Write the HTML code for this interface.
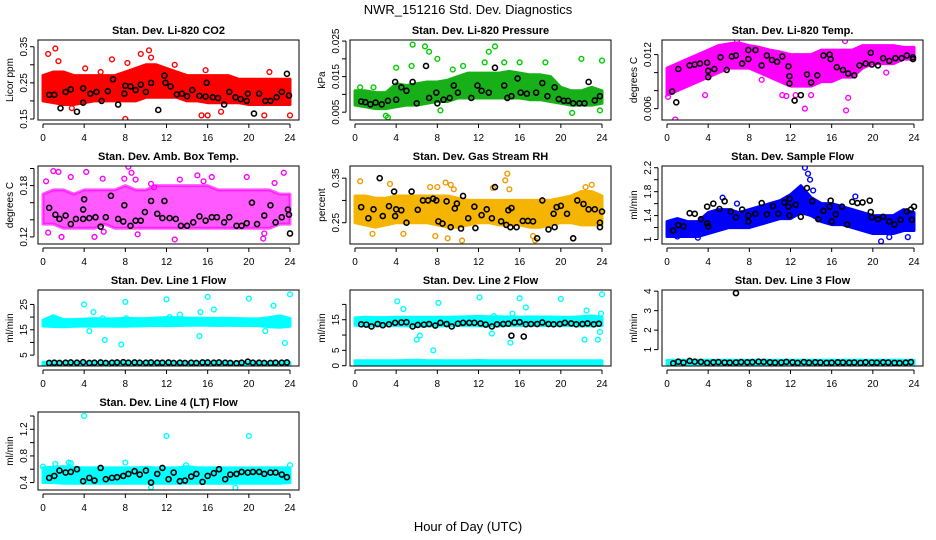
<!DOCTYPE html>
<html><head><meta charset="utf-8"><title>NWR_151216 Std. Dev. Diagnostics</title>
<style>
html,body{margin:0;padding:0;background:#fff;}
svg{display:block;font-family:"Liberation Sans",sans-serif;}
</style></head>
<body>
<svg id="chart" width="936" height="540" viewBox="0 0 936 540" xmlns="http://www.w3.org/2000/svg">
<text x="468" y="14" text-anchor="middle" font-size="13">NWR_151216  Std. Dev. Diagnostics</text>
<text x="468" y="531" text-anchor="middle" font-size="13">Hour of Day (UTC)</text>
</svg>
<script>
const xTicks = [0,4,8,12,16,20,24];

const co2Lo = [0.20,0.195,0.19,0.19,0.195,0.20,0.20,0.20,0.20,0.20,0.21,0.21,0.21,0.21,0.20,0.20,0.195,0.195,0.195,0.195,0.19,0.19,0.19,0.19,0.19];
const co2Hi = [0.27,0.28,0.28,0.27,0.27,0.27,0.27,0.27,0.28,0.29,0.30,0.30,0.29,0.28,0.27,0.27,0.27,0.27,0.27,0.26,0.26,0.26,0.26,0.26,0.26];
const co2Out = [[0.5,0.33],[1.2,0.345],[1.5,0.31],[4.1,0.29],[6.7,0.315],[8.0,0.15],[8.2,0.305],[9.5,0.33],[10.3,0.34],[10.5,0.32],[12.8,0.30],[15.4,0.16],[15.8,0.285],[16,0.16],[21.5,0.16],[22,0.28],[24,0.16],[5.6,0.28],[2.8,0.18],[17.3,0.17]];
const co2Blk = [[0.6,0.217],[1.1,0.217],[1.7,0.18],[2.2,0.225],[2.7,0.232],[3.3,0.17],[3.9,0.195],[3.9,0.235],[4.6,0.22],[5.2,0.225],[5.7,0.2],[6.3,0.227],[6.8,0.26],[7.3,0.19],[7.9,0.22],[8,0.242],[8.5,0.24],[9,0.23],[9.5,0.245],[10,0.225],[10.5,0.25],[11.2,0.175],[11.8,0.27],[11.9,0.25],[12.4,0.24],[13,0.218],[13.5,0.22],[14,0.213],[14.5,0.23],[15.2,0.214],[15.8,0.212],[15.9,0.25],[16.5,0.21],[17,0.208],[17.6,0.19],[18.1,0.225],[18.7,0.21],[19.2,0.205],[19.8,0.2],[19.9,0.22],[20.5,0.165],[21,0.22],[21.6,0.2],[22.1,0.2],[22.7,0.21],[23.2,0.225],[23.7,0.275],[23.9,0.215]];

const presLo = [0.007,0.0065,0.006,0.006,0.0065,0.007,0.007,0.0075,0.008,0.008,0.009,0.009,0.009,0.009,0.009,0.009,0.009,0.0085,0.0085,0.008,0.0075,0.007,0.007,0.007,0.0075];
const presHi = [0.011,0.011,0.0105,0.0105,0.013,0.0125,0.013,0.0135,0.0135,0.014,0.015,0.016,0.016,0.016,0.016,0.0165,0.016,0.0155,0.0155,0.015,0.012,0.011,0.011,0.012,0.011];
const presOut = [[5.6,0.024],[6.8,0.0235],[7.2,0.022],[8.0,0.02],[4,0.0175],[5.5,0.018],[9.5,0.017],[10.5,0.018],[12.6,0.019],[13.0,0.022],[13.6,0.0235],[14.5,0.019],[16,0.019],[18.5,0.019],[22,0.02],[24,0.0195],[3,0.004],[3.2,0.0035],[21.1,0.0048],[8.3,0.0055],[1.8,0.012],[0.5,0.012],[23.8,0.0055]];
const presBlk = [[0.6,0.008],[1,0.0078],[1.5,0.0072],[2.0,0.0077],[2.6,0.0072],[3.2,0.0082],[3.9,0.0135],[4,0.0085],[4.5,0.012],[5,0.011],[5.6,0.0135],[6,0.0075],[6.9,0.018],[7.2,0.009],[7.9,0.0105],[8,0.0075],[8.6,0.0085],[9.2,0.009],[9.6,0.0125],[10,0.0105],[11.3,0.009],[11.9,0.0125],[12.3,0.011],[13,0.0105],[13.6,0.0175],[14.5,0.0125],[14.8,0.009],[15.2,0.0095],[15.8,0.0145],[16.1,0.0105],[16.7,0.0102],[17.6,0.0105],[18.2,0.0132],[18.7,0.0095],[19.4,0.012],[19.8,0.0087],[20.3,0.0082],[20.7,0.0082],[21.2,0.0075],[21.8,0.0075],[22.3,0.0075],[22.7,0.0135],[23.3,0.0083],[23.8,0.0095]];

const tempLo = [0.0075,0.008,0.0085,0.009,0.0095,0.01,0.0105,0.0105,0.0105,0.010,0.0095,0.009,0.0085,0.0085,0.0085,0.009,0.009,0.0095,0.0095,0.0105,0.011,0.011,0.011,0.0115,0.0115];
const tempHi = [0.0105,0.011,0.0115,0.012,0.0125,0.013,0.0132,0.0133,0.013,0.0128,0.0125,0.0123,0.012,0.012,0.012,0.0125,0.0125,0.0125,0.0125,0.013,0.013,0.013,0.013,0.0128,0.0128];
const tempOut = [[0.1,0.0073],[0.8,0.0048],[1.7,0.0087],[3.7,0.0075],[6.8,0.0135],[9.2,0.0092],[11.2,0.0075],[11.6,0.0074],[12.5,0.0075],[13.4,0.006],[14,0.0075],[17.4,0.0058],[17.6,0.0072],[17.3,0.0135],[21.3,0.01],[7.7,0.0108]];
const tempBlk = [[0.5,0.0079],[0.9,0.0067],[1.1,0.0104],[2.2,0.0108],[2.7,0.0109],[3.2,0.011],[3.9,0.0111],[4,0.0095],[4,0.0102],[4.6,0.0104],[5.2,0.0117],[5.8,0.0103],[6.3,0.0118],[6.7,0.0119],[7.3,0.011],[7.9,0.0125],[7.9,0.0115],[8.6,0.0125],[9.2,0.0108],[9.7,0.0119],[10.2,0.0114],[10.7,0.0112],[11.2,0.0118],[11.8,0.0107],[11.9,0.0088],[11.9,0.0096],[12.4,0.0069],[13,0.0075],[13.6,0.0098],[14,0.0089],[14.6,0.0097],[15.2,0.0119],[15.8,0.012],[15.9,0.0115],[16.5,0.0106],[17.1,0.0103],[17.6,0.0099],[18.2,0.0097],[18.7,0.0108],[19.3,0.011],[19.8,0.0122],[19.9,0.0109],[20.5,0.0108],[21,0.0116],[21.6,0.0113],[22.2,0.0116],[22.8,0.0116],[23.3,0.0119],[23.9,0.0117],[23.9,0.0115]];

const ambLo = [0.135,0.135,0.13,0.13,0.13,0.13,0.135,0.13,0.13,0.13,0.13,0.13,0.13,0.13,0.13,0.13,0.13,0.13,0.13,0.13,0.13,0.13,0.13,0.135,0.135];
const ambHi = [0.17,0.175,0.175,0.17,0.175,0.175,0.175,0.175,0.18,0.175,0.175,0.18,0.18,0.18,0.18,0.18,0.18,0.175,0.175,0.175,0.175,0.175,0.175,0.17,0.17];
const ambOut = [[0.3,0.185],[0.5,0.125],[1,0.197],[1.5,0.196],[2.7,0.19],[4.2,0.196],[5.8,0.188],[5.9,0.126],[7.9,0.188],[8.3,0.202],[8.6,0.195],[9,0.187],[10.5,0.182],[10.8,0.178],[12.4,0.21],[13.3,0.187],[12.8,0.117],[15,0.192],[15.6,0.185],[16.4,0.19],[19.8,0.19],[21.4,0.118],[21.5,0.124],[22.5,0.183],[23.4,0.195],[1.8,0.12],[5,0.12],[9.2,0.123]];
const ambBlk = [[0.6,0.154],[1.2,0.146],[1.6,0.141],[2.2,0.145],[2.7,0.135],[3.2,0.141],[3.9,0.141],[3.9,0.152],[4,0.164],[4.5,0.142],[5.1,0.143],[5.6,0.132],[6.1,0.143],[6.6,0.168],[7.3,0.141],[7.8,0.138],[7.9,0.157],[8.5,0.133],[9,0.139],[9.5,0.139],[9.9,0.149],[10.5,0.162],[11.1,0.147],[11.6,0.142],[11.8,0.162],[12.3,0.142],[12.9,0.141],[13.4,0.133],[14,0.133],[14.6,0.137],[15.2,0.144],[15.8,0.139],[16.4,0.143],[16.9,0.143],[17.6,0.137],[18.1,0.143],[18.8,0.133],[19.3,0.133],[19.8,0.136],[20.3,0.16],[20.8,0.135],[21.5,0.145],[22.1,0.157],[22.6,0.137],[23.2,0.143],[23.8,0.152],[23.9,0.146],[24,0.124]];

const rhLo = [0.25,0.245,0.24,0.245,0.25,0.25,0.25,0.25,0.245,0.24,0.24,0.245,0.25,0.25,0.245,0.245,0.245,0.24,0.24,0.245,0.25,0.25,0.245,0.245,0.245];
const rhHi = [0.31,0.31,0.305,0.305,0.31,0.31,0.31,0.31,0.31,0.31,0.305,0.30,0.30,0.30,0.30,0.30,0.30,0.30,0.30,0.30,0.305,0.31,0.32,0.32,0.31];
const rhOut = [[0.5,0.343],[3.4,0.337],[7.3,0.33],[8,0.33],[8.8,0.34],[9.3,0.335],[9.6,0.325],[13.4,0.328],[14.6,0.345],[14.8,0.36],[15,0.325],[17.3,0.22],[17.5,0.21],[21.2,0.215],[9,0.215],[10.4,0.21],[7.8,0.22],[4.7,0.225],[1.7,0.225],[22.4,0.33],[23,0.335]];
const rhBlk = [[0.6,0.285],[1.3,0.26],[1.8,0.28],[2.4,0.35],[2.7,0.265],[3.3,0.287],[3.8,0.32],[3.9,0.265],[4,0.28],[4.5,0.278],[5,0.25],[5.5,0.32],[6.1,0.279],[6.6,0.3],[7.1,0.3],[7.6,0.304],[7.9,0.3],[8.1,0.253],[8.5,0.248],[8.9,0.298],[9.3,0.24],[9.7,0.282],[9.9,0.293],[10.3,0.237],[10.5,0.31],[11,0.26],[11.6,0.286],[11.7,0.238],[12.3,0.267],[12.8,0.28],[13.3,0.26],[13.6,0.33],[14.2,0.253],[14.7,0.245],[14.9,0.278],[15.1,0.24],[15.2,0.283],[15.7,0.24],[16.3,0.254],[16.8,0.254],[17.3,0.253],[17.7,0.215],[18.2,0.3],[18.8,0.235],[19.4,0.24],[19.3,0.27],[19.6,0.285],[20,0.288],[20.6,0.27],[21.2,0.215],[21.6,0.3],[22.2,0.292],[22.7,0.28],[23.3,0.28],[23.8,0.24],[23.8,0.25],[24,0.275]];

const sfLo = [1.05,1.05,1.05,1.05,1.1,1.15,1.2,1.2,1.2,1.25,1.3,1.35,1.35,1.45,1.4,1.3,1.25,1.25,1.2,1.15,1.1,1.1,1.1,1.15,1.15];
const sfHi = [1.3,1.35,1.3,1.3,1.45,1.5,1.5,1.45,1.5,1.55,1.6,1.65,1.75,1.9,1.7,1.6,1.6,1.55,1.5,1.45,1.4,1.4,1.4,1.5,1.45];
const sfOut = [[13.4,2.2],[13.7,2.1],[13.9,2.0],[14.2,1.82],[18.3,1.72],[20.8,0.97],[23.4,1.04],[3,1.03],[1,1.05],[21.6,1.04],[6.8,1.6],[5.4,1.7]];
const sfBlk = [[0.6,1.15],[1.1,1.24],[1.6,1.22],[2.2,1.44],[2.7,1.43],[3.3,1.34],[3.9,1.55],[3.9,1.27],[4,1.22],[4.5,1.6],[5.1,1.51],[5.6,1.64],[6.2,1.47],[6.7,1.37],[7.3,1.5],[7.9,1.4],[7.9,1.3],[8.6,1.43],[9.2,1.61],[9.7,1.42],[10.3,1.56],[10.8,1.43],[11.4,1.62],[11.8,1.55],[11.9,1.68],[11.9,1.4],[12.5,1.58],[13,1.38],[13.6,1.86],[14.1,1.64],[14.7,1.34],[15.2,1.48],[15.8,1.55],[15.9,1.65],[16,1.3],[16.4,1.42],[17,1.55],[17.5,1.25],[18,1.63],[18.5,1.61],[19,1.62],[19.7,1.65],[19.8,1.46],[19.9,1.37],[20.5,1.34],[21,1.38],[21.6,1.3],[22.1,1.25],[22.7,1.33],[23.3,1.47],[23.7,1.5],[23.8,1.33],[24,1.55]];

const lineHours = [0.6,1.1,1.6,2.2,2.7,3.3,3.9,4.5,5.0,5.6,6.1,6.7,7.2,7.8,8.3,8.9,9.4,10.0,10.5,11.1,11.6,12.2,12.7,13.3,13.8,14.4,14.9,15.5,16.0,16.6,17.1,17.7,18.2,18.8,19.3,19.9,20.4,21.0,21.5,22.1,22.6,23.2,23.7];

const l1Lo = [16.5,16.3,16.2,16.4,16.5,16.4,16.5,16.4,16.4,16.5,16.6,16.7,16.6,16.7,16.8,16.8,16.8,16.7,16.8,16.7,16.7,16.6,16.2,16.0,16.4];
const l1Hi = [18.8,20.5,19.0,19.0,19.2,19.4,19.3,19.3,19.5,19.4,19.4,19.6,19.8,19.8,19.6,19.6,19.5,19.5,19.5,19.4,19.3,19.3,19.8,20.5,19.5];
const l1Lo2 = [1.2,1.2,1.2,1.2,1.2,1.2,1.2,1.2,1.2,1.2,1.2,1.2,1.2,1.2,1.2,1.2,1.2,1.2,1.2,1.2,1.2,1.2,1.2,1.2,1.2];
const l1Hi2 = [2.2,2.2,2.2,2.2,2.2,2.2,2.2,2.2,2.2,2.2,2.2,2.2,2.2,2.2,2.2,2.2,2.2,2.2,2.2,2.2,2.2,2.2,2.2,2.2,2.2];
const l1Out = [[4,25],[4.5,14.5],[4.9,22],[5.8,19.5],[6,11],[7.6,9.2],[8,26],[8.1,19.5],[12,27],[12.3,20],[13.3,21],[15.2,12.5],[15.3,22],[16,28],[16.6,23],[20,27.3],[21.6,14.5],[22.4,24.5],[23.5,9.8],[24,29]];
const l1Blk = [1.9,2.0,1.9,2.0,2.1,2.0,2.2,1.9,2.0,2.1,1.9,2.0,2.1,2.2,2.0,2.1,2.0,2.0,2.1,2.0,2.0,2.1,1.9,2.0,1.9,2.0,1.9,2.1,2.1,2.0,2.1,2.0,1.9,1.8,2.0,2.4,2.0,2.0,1.9,1.9,2.0,2.0,2.1];

const l2Lo = [13.2,13.0,13.0,13.1,13.1,13.0,12.9,13.0,13.0,13.0,13.1,13.1,13.0,13.0,13.0,13.1,13.1,13.1,13.1,13.1,13.1,13.1,13.0,13.0,13.1];
const l2Hi = [15.6,15.8,15.7,15.7,15.8,15.8,15.8,15.8,15.8,15.8,15.9,16.0,16.1,16.0,16.0,15.9,15.9,15.9,15.9,15.9,15.8,15.8,16.0,16.2,15.8];
const l2Lo2 = [0.4,0.4,0.4,0.4,0.4,0.4,0.4,0.4,0.4,0.4,0.4,0.4,0.4,0.4,0.4,0.4,0.4,0.4,0.4,0.4,0.4,0.4,0.4,0.4,0.4];
const l2Hi2 = [1.6,1.6,1.6,1.6,1.6,1.7,1.8,1.6,1.6,1.6,1.6,1.6,1.7,1.6,1.6,1.6,1.6,1.6,1.6,1.6,1.6,1.6,1.6,1.6,1.6];
const l2Out = [[4.1,21],[4.7,18.5],[6,8.5],[6.3,9.8],[7.6,5],[8.1,20.5],[12.1,22.3],[13.3,10.5],[13.5,16.2],[15.1,7.5],[15.3,17],[16,22],[16.6,19],[20,21.8],[22.3,8.5],[22.5,18],[23.6,8.5],[23.8,11],[23.9,17],[24,23.3]];
const l2Blk = [13.5,13.4,12.8,13.6,13.2,13.5,14,14.1,14.2,12.8,13.3,13.4,13.6,13.1,14,13.6,12.8,13.7,14,14,14,13.8,13.4,12.8,13.5,13.6,13.7,14.1,14.2,13.5,13.6,13.6,14.1,13.6,13.5,13.6,14,13.8,13.5,13.6,13.8,13.5,13.7];
const l2BlkOut = [[15.2,9.8],[16.4,9.5]];

const l3Lo = [0.24,0.24,0.24,0.24,0.24,0.24,0.24,0.24,0.24,0.24,0.24,0.24,0.24,0.24,0.24,0.24,0.24,0.24,0.24,0.24,0.24,0.24,0.24,0.24,0.24];
const l3Hi = [0.44,0.45,0.45,0.45,0.46,0.45,0.45,0.45,0.45,0.45,0.45,0.45,0.46,0.45,0.45,0.45,0.45,0.45,0.45,0.45,0.45,0.45,0.45,0.45,0.45];
const l3Blk = [0.3,0.38,0.33,0.42,0.38,0.37,0.32,0.35,0.36,0.34,0.33,0.34,0.36,0.35,0.36,0.38,0.37,0.35,0.33,0.34,0.37,0.35,0.32,0.36,0.33,0.35,0.34,0.32,0.33,0.35,0.34,0.33,0.34,0.32,0.35,0.34,0.33,0.35,0.34,0.32,0.31,0.33,0.36];
const l3BlkOut = [[6.7,3.9]];

const l4Lo = [0.4,0.4,0.39,0.39,0.39,0.39,0.39,0.39,0.39,0.39,0.39,0.39,0.39,0.39,0.39,0.39,0.39,0.39,0.39,0.39,0.39,0.39,0.39,0.39,0.4];
const l4Hi = [0.62,0.63,0.64,0.63,0.62,0.62,0.62,0.62,0.62,0.62,0.63,0.62,0.62,0.62,0.64,0.62,0.62,0.62,0.62,0.62,0.62,0.62,0.62,0.62,0.62];
const l4Out = [[4,1.4],[12,1.1],[20,1.1],[1.2,0.68],[2.5,0.7],[2.7,0.69],[8,0.7],[24,0.66],[0,0.64],[10.5,0.33],[18.7,0.32],[13.9,0.66]];
const l4Blk = [0.47,0.5,0.58,0.55,0.56,0.6,0.42,0.47,0.43,0.62,0.45,0.47,0.48,0.5,0.53,0.57,0.52,0.58,0.4,0.53,0.62,0.45,0.55,0.42,0.43,0.49,0.53,0.41,0.5,0.54,0.6,0.45,0.52,0.53,0.56,0.55,0.56,0.56,0.53,0.55,0.55,0.52,0.48];

const NS = "http://www.w3.org/2000/svg";
const svg = document.getElementById('chart');
function mk(tag, attrs, parent){ const e=document.createElementNS(NS,tag); for(const k in attrs) e.setAttribute(k,attrs[k]); (parent||svg).appendChild(e); return e; }
function pairs(xs, ys){ return xs.map((x,i)=>[x,ys[i]]); }
const hours = co2Lo.map((_,i)=>i);

const panels = [
 {id:'co2', title:'Stan. Dev. Li-820 CO2', yl:'Licor ppm', col:0,row:0, ymin:0.1472,ymax:0.3686, ticks:[0.15,0.2,0.25,0.3,0.35], labels:[0.15,0.25,0.35], color:'#ff0000', bands:[[co2Lo,co2Hi]], out:co2Out, blk:co2Blk, op:1},
 {id:'pressure', title:'Stan. Dev. Li-820 Pressure', yl:'kPa', col:1,row:0, ymin:0.0028,ymax:0.0253, ticks:[0.005,0.01,0.015,0.02,0.025], labels:[0.005,0.015,0.025], color:'#18b018', bands:[[presLo,presHi]], out:presOut, blk:presBlk, op:1, outColor:'#00cc00'},
 {id:'li820-temp', title:'Stan. Dev. Li-820 Temp.', yl:'degrees C', col:2,row:0, ymin:0.00474,ymax:0.01362, ticks:[0.006,0.008,0.010,0.012], labels:[0.006,0.012], color:'#ff00ff', bands:[[tempLo,tempHi]], out:tempOut, blk:tempBlk, op:1},
 {id:'amb-temp', title:'Stan. Dev. Amb. Box Temp.', yl:'degrees C', col:0,row:1, ymin:0.1117,ymax:0.2029, ticks:[0.12,0.14,0.16,0.18,0.20], labels:[0.12,0.18], color:'#ff00ff', bands:[[ambLo,ambHi]], out:ambOut, blk:ambBlk, op:0.65},
 {id:'gas-rh', title:'Stan. Dev. Gas Stream RH', yl:'percent', col:1,row:1, ymin:0.2022,ymax:0.3773, ticks:[0.25,0.30,0.35], labels:[0.25,0.35], color:'#f4b400', bands:[[rhLo,rhHi]], out:rhOut, blk:rhBlk, op:1, outColor:'#ee9900'},
 {id:'sample-flow', title:'Stan. Dev. Sample Flow', yl:'ml/min', col:2,row:1, ymin:0.925,ymax:2.229, ticks:[1.0,1.2,1.4,1.6,1.8,2.0,2.2], labels:[1.0,1.4,1.8,2.2], color:'#0000ff', bands:[[sfLo,sfHi]], out:sfOut, blk:sfBlk, op:1},
 {id:'line1-flow', title:'Stan. Dev. Line 1 Flow', yl:'ml/min', col:0,row:2, ymin:0.7,ymax:30.7, ticks:[5,10,15,20,25], labels:[5,15,25], color:'#00ffff', bands:[[l1Lo,l1Hi],[l1Lo2,l1Hi2]], out:l1Out, blk:pairs(lineHours,l1Blk), op:1},
 {id:'line2-flow', title:'Stan. Dev. Line 2 Flow', yl:'ml/min', col:1,row:2, ymin:-0.1,ymax:24.7, ticks:[0,5,10,15,20], labels:[0,5,15], color:'#00ffff', bands:[[l2Lo,l2Hi],[l2Lo2,l2Hi2]], out:l2Out, blk:pairs(lineHours,l2Blk).concat(l2BlkOut), op:1},
 {id:'line3-flow', title:'Stan. Dev. Line 3 Flow', yl:'ml/min', col:2,row:2, ymin:0.16,ymax:4.06, ticks:[1,2,3,4], labels:[1,2,3,4], color:'#00ffff', bands:[[l3Lo,l3Hi]], out:[], blk:pairs(lineHours,l3Blk).concat(l3BlkOut), op:1},
 {id:'line4-flow', title:'Stan. Dev. Line 4 (LT) Flow', yl:'ml/min', col:0,row:3, ymin:0.288,ymax:1.46, ticks:[0.4,0.6,0.8,1.0,1.2,1.4], labels:[0.4,0.8,1.2], color:'#00ffff', bands:[[l4Lo,l4Hi]], out:l4Out, blk:pairs(lineHours,l4Blk), op:1}
];
const rowTops = [40,166,290,412];
const rowH = [80,78,76,78];

panels.forEach(p=>{
  const L = 38 + p.col*312, R = L+261, T = rowTops[p.row], B = T+rowH[p.row];
  const xs = h => (L+5) + h*(247/24);
  const ys = v => B - (v-p.ymin)/(p.ymax-p.ymin)*(B-T);
  const g = mk('g',{});
  
  
  const t = mk('text',{x:(L+R)/2,y:T-6,'text-anchor':'middle','font-size':'11','font-weight':'bold'},g);
  
  
  t.textContent = p.title;
  const cp = mk('clipPath',{id:'clip-'+p.id},g);
  mk('rect',{x:L,y:T,width:R-L,height:B-T},cp);
  const plot = mk('g',{'clip-path':'url(#clip-'+p.id+')'},g);
  
  
  p.bands.forEach((bd,bi)=>{
    const lo = bd[0], hi = bd[1];
    let d = hi.map((v,i)=>(i?'L':'M')+xs(hours[i]).toFixed(1)+','+ys(v).toFixed(1)).join(' ');
    for(let i=lo.length-1;i>=0;i--) d += ' L'+xs(hours[i]).toFixed(1)+','+ys(lo[i]).toFixed(1);
    const band = mk('path',{d:d+' Z',fill:p.color,'fill-opacity':p.op,stroke:p.color,'stroke-width':'3','stroke-opacity':p.op,'stroke-linejoin':'round'},plot);
    
    
  });
  p.out.forEach(pt=>{
    const c = mk('circle',{cx:xs(pt[0]),cy:ys(pt[1]),r:2.4,fill:'none',stroke:p.outColor||p.color,'stroke-width':'1.4'},plot);
    
    
  });
  p.blk.forEach(pt=>{
    const c = mk('circle',{cx:xs(pt[0]),cy:ys(pt[1]),r:2.5,fill:'none',stroke:'#000','stroke-width':'1.6'},plot);
    
    
  });
  const box = mk('rect',{x:L,y:T,width:R-L,height:B-T,fill:'none',stroke:'#000','stroke-width':'1'},g);
  
  
  const xa = mk('g',{},g);
  
  
  mk('line',{x1:xs(0),x2:xs(24),y1:B+4,y2:B+4,stroke:'#000'},xa);
  xTicks.forEach(h=>{
    mk('line',{x1:xs(h),x2:xs(h),y1:B+4,y2:B+8,stroke:'#000'},xa);
    const tl = mk('text',{x:xs(h),y:B+21,'text-anchor':'middle','font-size':'10'},xa);
    
    
    tl.textContent = h;
  });
  const ya = mk('g',{},g);
  
  
  mk('line',{x1:L-4,x2:L-4,y1:ys(p.ticks[0]),y2:ys(p.ticks[p.ticks.length-1]),stroke:'#000'},ya);
  p.ticks.forEach(v=>{ mk('line',{x1:L-8,x2:L-4,y1:ys(v),y2:ys(v),stroke:'#000'},ya); });
  p.labels.forEach(v=>{
    const yy = ys(v), xx = L-11;
    const tl = mk('text',{x:xx,y:yy,'text-anchor':'middle','font-size':'10',transform:'rotate(-90 '+xx+' '+yy+')'},ya);
    
    
    tl.textContent = String(v);
  });
  const yx = L-25, yy = (T+B)/2;
  const yt = mk('text',{x:yx,y:yy,'text-anchor':'middle','font-size':'10',transform:'rotate(-90 '+yx+' '+yy+')'},ya);
  
  
  yt.textContent = p.yl;
});
</script>
</body></html>
